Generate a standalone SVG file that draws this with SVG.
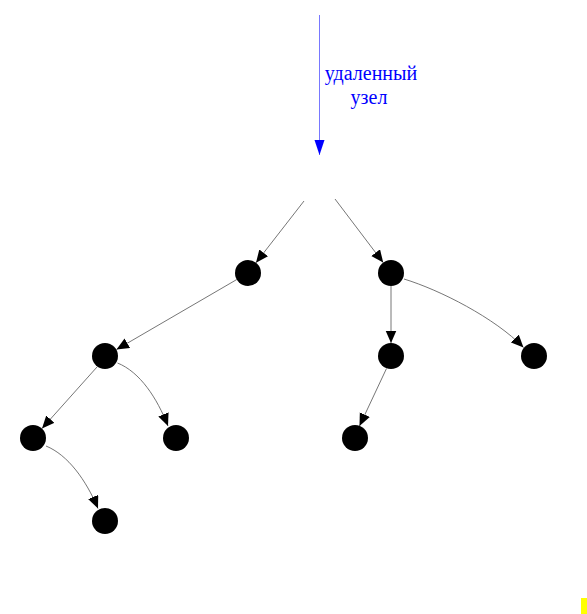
<svg xmlns="http://www.w3.org/2000/svg" width="587" height="614" viewBox="0 0 587 614">
<style>
.node{fill:#000}
.edge{fill:none;stroke:#666;stroke-width:0.9}
.lbl{font-family:"Liberation Serif","DejaVu Serif",serif;font-size:20px;fill:#0000ff;text-anchor:middle}
</style>
<defs>
<marker id="ah" markerUnits="userSpaceOnUse" markerWidth="14" markerHeight="12" refX="12.5" refY="5.5" orient="auto">
<path d="M0,0 L12.5,5.5 L0,11 Z" fill="#000"/>
</marker>
<marker id="bh" markerUnits="userSpaceOnUse" markerWidth="16" markerHeight="12" refX="15" refY="5" orient="auto">
<path d="M0,0 L15,5 L0,10 Z" fill="#0000ff"/>
</marker>
</defs>
<rect width="587" height="614" fill="#fff"/>
<g id="connectors">
<line x1="319.5" y1="15" x2="319.5" y2="155" stroke="#7878ff" stroke-width="1" marker-end="url(#bh)"/>
<line class="edge" x1="304" y1="201" x2="256" y2="262.7" marker-end="url(#ah)"/>
<line class="edge" x1="335" y1="199" x2="383.2" y2="262.6" marker-end="url(#ah)"/>
<line class="edge" x1="236.8" y1="279.5" x2="116.5" y2="349.5" marker-end="url(#ah)"/>
<line class="edge" x1="391" y1="286" x2="391" y2="343" marker-end="url(#ah)"/>
<path class="edge" d="M404,279 C440,290 495,318 523.5,347.5" marker-end="url(#ah)"/>
<line class="edge" x1="97" y1="367" x2="42" y2="428.5" marker-end="url(#ah)"/>
<path class="edge" d="M117.5,363 C140,372 157,398 168,426" marker-end="url(#ah)"/>
<line class="edge" x1="386.5" y1="368.5" x2="359.5" y2="426" marker-end="url(#ah)"/>
<path class="edge" d="M46,446 C68,455 86,480 98,508.5" marker-end="url(#ah)"/>
</g>
<g id="label"><text class="lbl" x="371" y="80">удаленный</text><text class="lbl" x="369" y="104">узел</text></g>
<g id="nA"><circle class="node" cx="248" cy="273" r="13"/></g>
<g id="nB"><circle class="node" cx="391" cy="273" r="13"/></g>
<g id="nC"><circle class="node" cx="105" cy="356" r="13"/></g>
<g id="nD"><circle class="node" cx="391" cy="356" r="13"/></g>
<g id="nE"><circle class="node" cx="534" cy="356" r="13"/></g>
<g id="nF"><circle class="node" cx="33" cy="438" r="13"/></g>
<g id="nG"><circle class="node" cx="176" cy="438" r="13"/></g>
<g id="nH"><circle class="node" cx="355" cy="438" r="13"/></g>
<g id="nI"><circle class="node" cx="105" cy="521" r="13"/></g>
<rect x="581" y="598" width="6" height="16" fill="#ffff00"/>
</svg>
